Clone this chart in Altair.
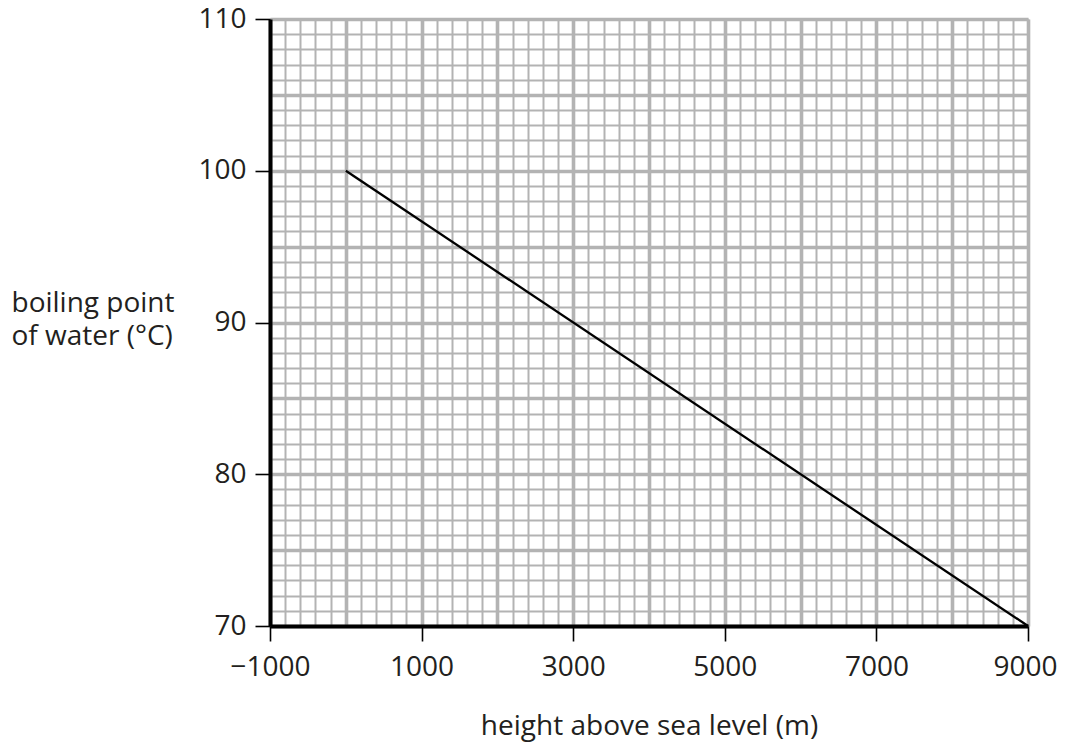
import altair as alt
import pandas as pd

# data
heights = [0, 9000]
boiling = [100, 70]

x_ticks = [-1000, 1000, 3000, 5000, 7000, 9000]
y_ticks = [70, 80, 90, 100, 110]
x_major = list(range(-1000, 9001, 1000))
y_major = list(range(70, 111, 5))
x_minor = list(range(-1000, 9001, 200))
y_minor = list(range(70, 111, 1))

df = pd.DataFrame({"h": heights, "bp": boiling})

FONT = "Open Sans"
TXT = "#231f20"
GRID = "#b3b3b3"
FS = 28

xs = alt.Scale(domain=[-1000, 9000], nice=False, zero=False)
ys = alt.Scale(domain=[70, 110], nice=False, zero=False)


def grid_axis(values, width, orient):
    return alt.Axis(values=values, grid=True, gridColor=GRID, gridWidth=width,
                    gridOpacity=1, labels=False, ticks=False, domain=False,
                    title=None, orient=orient)


base = alt.Chart(df)

minor = base.mark_point(opacity=0).encode(
    x=alt.X("h:Q", scale=xs, axis=grid_axis(x_minor, 2, "bottom")),
    y=alt.Y("bp:Q", scale=ys, axis=grid_axis(y_minor, 2, "left")),
)
major = base.mark_point(opacity=0).encode(
    x=alt.X("h:Q", scale=xs, axis=grid_axis(x_major, 3.6, "bottom")),
    y=alt.Y("bp:Q", scale=ys, axis=grid_axis(y_major, 3.6, "left")),
)
main = base.mark_line(color="black", strokeWidth=2.3).encode(
    x=alt.X("h:Q", scale=xs, axis=alt.Axis(
        values=x_ticks, grid=False, orient="bottom", zindex=2,
        domainColor="black", domainWidth=4, tickColor="black", tickWidth=1.6,
        tickSize=15, labelFont=FONT, labelFontSize=FS, labelColor=TXT,
        labelPadding=12, labelFlush=False, format="d",
        labelOffset={"condition": {"test": "datum.value == 9000", "value": -3},
                     "value": 0},
        labelExpr="datum.value < 0 ? '\u2212' + abs(datum.value) : datum.label",
        title="height above sea level (m)", titleFont=FONT, titleFontSize=FS,
        titleFontWeight="normal", titleColor=TXT, titleY=100,
        titleBaseline="middle")),
    y=alt.Y("bp:Q", scale=ys, axis=alt.Axis(
        values=y_ticks, grid=False, orient="left", zindex=2,
        domainColor="black", domainWidth=4, tickColor="black", tickWidth=1.6,
        tickSize=15, labelFont=FONT, labelFontSize=FS, labelColor=TXT,
        labelPadding=9,
        title=["boiling point", "of water (\u00b0C)"], titleFont=FONT,
        titleFontSize=FS, titleFontWeight="normal", titleColor=TXT,
        titleAngle=0, titleAlign="left", titleBaseline="middle",
        titleX=-259, titleY=284, titleLineHeight=33)),
)

chart = alt.layer(minor, major, main).resolve_axis(
    x="independent", y="independent"
).properties(
    width=758, height=607,
    autosize=alt.AutoSizeParams(type="none"),
    padding={"left": 262, "top": 11, "right": 30, "bottom": 126},
).configure_view(stroke=None)

chart.save("out.html", embed_options={"renderer": "svg", "actions": False})
